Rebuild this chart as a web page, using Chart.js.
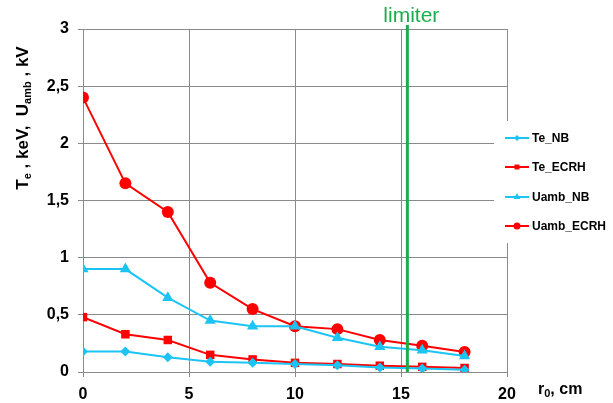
<!DOCTYPE html>
<html><head><meta charset="utf-8">
<script src="https://cdn.jsdelivr.net/npm/chart.js@4/dist/chart.umd.min.js"></script>
<style>html,body{margin:0;padding:0;background:#fff;}#wrap{width:613px;height:403px;position:relative;}</style>
</head><body><div id="wrap"><canvas id="c" width="613" height="403"></canvas></div>
<script>
const radius = [0, 2, 4, 6, 8, 10, 12, 14, 16, 18];
const teNB = [0.18, 0.18, 0.13, 0.09, 0.08, 0.07, 0.06, 0.04, 0.03, 0.02];
const teECRH = [0.48, 0.33, 0.28, 0.15, 0.11, 0.08, 0.07, 0.055, 0.045, 0.035];
const uambNB = [0.9, 0.9, 0.65, 0.45, 0.4, 0.4, 0.3, 0.22, 0.19, 0.14];
const uambECRH = [2.4, 1.65, 1.4, 0.78, 0.55, 0.4, 0.375, 0.28, 0.23, 0.175];
const limiterPos = 15.3;
const seriesNames = ['Te_NB', 'Te_ECRH', 'Uamb_NB', 'Uamb_ECRH'];

const CYAN = '#1cc4f4', RED = '#ff0000', GREEN = '#1aae4c';
const pts = arr => radius.map((x, i) => ({x, y: arr[i]}));
const datasets = [
  {label: seriesNames[0], data: pts(teNB), borderColor: CYAN, backgroundColor: CYAN, pointStyle: 'rectRot', pointRadius: 5},
  {label: seriesNames[1], data: pts(teECRH), borderColor: RED, backgroundColor: RED, pointStyle: 'rect', pointRadius: 6},
  {label: seriesNames[2], data: pts(uambNB), borderColor: CYAN, backgroundColor: CYAN, pointStyle: 'triangle', pointRadius: 6.5},
  {label: seriesNames[3], data: pts(uambECRH), borderColor: RED, backgroundColor: RED, pointStyle: 'circle', pointRadius: 6}
].map(d => Object.assign(d, {borderWidth: 2, pointBorderWidth: 0, tension: 0, fill: false}));

const FONT = 'Liberation Sans, Arial, sans-serif';

const extras = {
  id: 'extras',
  afterDatasetsDraw(chart) {
    const ctx = chart.ctx, xs = chart.scales.x, ys = chart.scales.y;
    const lx = xs.getPixelForValue(limiterPos);
    ctx.save();
    ctx.strokeStyle = GREEN; ctx.lineWidth = 3;
    ctx.beginPath(); ctx.moveTo(lx, ys.top - 4); ctx.lineTo(lx, ys.bottom); ctx.stroke();
    ctx.fillStyle = GREEN; ctx.font = '21px ' + FONT; ctx.textAlign = 'center'; ctx.textBaseline = 'alphabetic';
    ctx.fillText('limiter', lx + 4, 22);
    ctx.restore();
  },
  afterDraw(chart) {
    const ctx = chart.ctx;
    ctx.save();
    ctx.fillStyle = '#fff';
    ctx.fillRect(494, 121, 119, 122);
    const ly = [138, 167, 197, 226];
    const cols = [CYAN, RED, CYAN, RED];
    const styles = ['rectRot', 'rect', 'triangle', 'circle'];
    const rads = [3, 3.5, 4, 3.5];
    ly.forEach((y, i) => {
      ctx.strokeStyle = cols[i]; ctx.lineWidth = 2;
      ctx.beginPath(); ctx.moveTo(505, y); ctx.lineTo(529, y); ctx.stroke();
      ctx.fillStyle = cols[i];
      Chart.helpers.drawPoint(ctx, {pointStyle: styles[i], radius: rads[i], borderWidth: 0}, 517, y);
      ctx.fillStyle = '#000'; ctx.font = 'bold 12px ' + FONT; ctx.textAlign = 'left'; ctx.textBaseline = 'middle';
      ctx.fillText(seriesNames[i], 532, y + 1);
    });
    ctx.translate(23, 118);
    ctx.rotate(-Math.PI / 2);
    const parts = [['T', 0, 17], ['e', 5, 11], [' , keV,  U', 0, 17], ['amb', 5, 11], [' , kV', 0, 17]];
    let total = 0;
    parts.forEach(p => { ctx.font = 'bold ' + p[2] + 'px ' + FONT; total += ctx.measureText(p[0]).width; });
    let x = -total / 2;
    ctx.fillStyle = '#000'; ctx.textAlign = 'left'; ctx.textBaseline = 'middle';
    parts.forEach(p => { ctx.font = 'bold ' + p[2] + 'px ' + FONT; ctx.fillText(p[0], x, p[1]); x += ctx.measureText(p[0]).width; });
    ctx.setTransform(1, 0, 0, 1, 0, 0);
    const xp = [['r', 0, 16], ['0', 4, 11], [', cm', 0, 16]];
    let xx = 538;
    xp.forEach(p => { ctx.font = 'bold ' + p[2] + 'px ' + FONT; ctx.fillText(p[0], xx, 390 + p[1]); xx += ctx.measureText(p[0]).width; });
    ctx.restore();
  }
};

new Chart(document.getElementById('c'), {
  type: 'line',
  data: {datasets},
  options: {
    responsive: false, animation: false,
    layout: {padding: {left: 0, right: 106, top: 29, bottom: 0}},
    plugins: {legend: {display: false}, tooltip: {enabled: false}},
    scales: {
      x: {
        type: 'linear', min: 0, max: 20,
        ticks: {stepSize: 5, color: '#000', font: {family: FONT, size: 16, weight: 'bold'}, padding: 8, maxRotation: 0},
        grid: {color: '#8a8a8a', lineWidth: 1, tickLength: 5, tickColor: '#8a8a8a'},
        border: {color: '#8a8a8a', width: 1},
        afterFit(s) { s.height = 31; }
      },
      y: {
        min: 0, max: 3,
        ticks: {stepSize: 0.5, color: '#000', font: {family: FONT, size: 16, weight: 'bold'}, padding: 9,
          callback: v => String(v).replace('.', ',')},
        grid: {color: '#8a8a8a', lineWidth: 1, tickLength: 5, tickColor: '#8a8a8a'},
        border: {color: '#8a8a8a', width: 1},
        afterFit(s) { s.width = 83; }
      }
    }
  },
  plugins: [extras]
});
</script></body></html>
